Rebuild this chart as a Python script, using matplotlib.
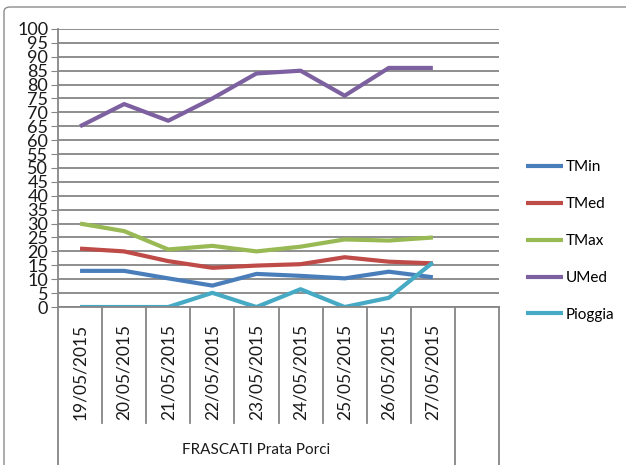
import matplotlib

matplotlib.use("Agg")
import matplotlib.pyplot as plt
from matplotlib.patches import FancyBboxPatch
import matplotlib.transforms as mtransforms

plt.rcParams["font.family"] = ["Lato", "DejaVu Sans"]

DATES = [
    "19/05/2015", "20/05/2015", "21/05/2015", "22/05/2015", "23/05/2015",
    "24/05/2015", "25/05/2015", "26/05/2015", "27/05/2015",
]
GROUP = "FRASCATI Prata Porci"
TMIN = [13, 13, 10.3, 7.7, 11.9, 11.2, 10.3, 12.7, 10.7]
TMED = [21, 20, 16.5, 14.1, 14.9, 15.4, 17.9, 16.3, 15.7]
TMAX = [30, 27.3, 20.7, 22, 20, 21.7, 24.3, 23.9, 25]
UMED = [65, 73, 67, 75, 84, 85, 76, 86, 86]
PIOGGIA = [0, 0, 0, 5.1, 0, 6.4, 0, 3.3, 16]
N_SLOTS = 10  # Excel leaves one empty category slot at the end

SERIES = [
    ("TMin", TMIN, "#4A7EBB"),
    ("TMed", TMED, "#BE4B48"),
    ("TMax", TMAX, "#98B954"),
    ("UMed", UMED, "#7D60A0"),
    ("Pioggia", PIOGGIA, "#46AAC5"),
]

W, H = 626, 465
fig = plt.figure(figsize=(W / 100, H / 100), dpi=100)

# outer chart frame
frame = FancyBboxPatch((4 / W, -0.05), 1.2, 1.05 - 7 / H + 0.0,
                       boxstyle="round,pad=0,rounding_size=0.01",
                       transform=fig.transFigure, fill=False,
                       edgecolor="#8c8c8c", lw=1.0, clip_on=False)
fig.patches.append(frame)

left, right, top, bottom = 58, 499, 29, 307
ax = fig.add_axes([left / W, (H - bottom) / H, (right - left) / W, (bottom - top) / H])

x = [i + 0.5 for i in range(len(DATES))]
for name, vals, color in SERIES:
    ax.plot(x, vals, color=color, lw=3, label=name, solid_capstyle="butt")

ax.set_xlim(0, N_SLOTS)
ax.set_ylim(0, 100)
ax.set_yticks(range(0, 101, 5))
ax.set_yticklabels([str(v) for v in range(0, 101, 5)], fontsize=13, color="#1a1a1a")
ax.tick_params(axis="y", length=5, color="#868686", pad=2)
ax.set_xticks([])
ax.grid(axis="y", color="#868686", lw=1.3)
ax.set_axisbelow(True)
for s in ["top", "right"]:
    ax.spines[s].set_visible(False)
ax.spines["left"].set_color("#868686")
ax.spines["left"].set_linewidth(1.3)
ax.spines["bottom"].set_color("#868686")
ax.spines["bottom"].set_linewidth(1.3)

# category dividers below the axis
ph = bottom - top
trans = mtransforms.blended_transform_factory(ax.transData, ax.transAxes)
inner_end = -(423 - bottom) / ph
outer_end = -(H + 5 - bottom) / ph
for i in range(1, len(DATES)):
    ax.plot([i, i], [0, inner_end], color="#868686", lw=1.3, transform=trans, clip_on=False)
for i in [0, len(DATES), N_SLOTS]:
    ax.plot([i, i], [0, outer_end], color="#868686", lw=1.3, transform=trans, clip_on=False)

for xi, d in zip(x, DATES):
    ax.text(xi, -(420 - bottom) / ph, d, rotation=90, ha="center", va="bottom",
            fontsize=12.5, transform=trans, color="#1a1a1a")
ax.text(len(DATES) / 2, -(450 - bottom) / ph, GROUP, ha="center", va="center",
        fontsize=11, transform=trans, color="#1a1a1a")

leg = fig.legend(loc="upper left", bbox_to_anchor=(520 / W, 1 - 154 / H),
                 frameon=False, fontsize=11, handlelength=2.4, handletextpad=0.2,
                 labelspacing=1.5, borderaxespad=0)

fig.savefig("out.png", dpi=100)
